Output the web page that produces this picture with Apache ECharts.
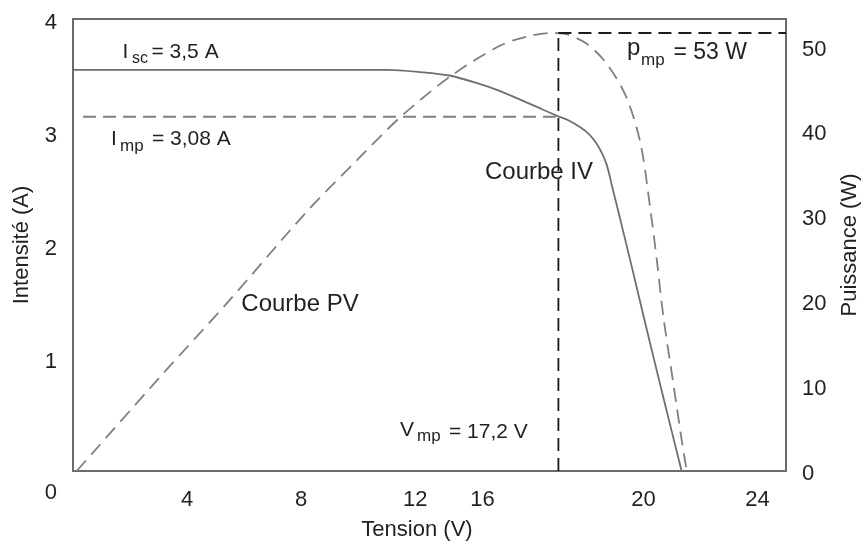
<!DOCTYPE html>
<html><head><meta charset="utf-8">
<script src="https://cdn.jsdelivr.net/npm/echarts@6/dist/echarts.min.js"></script>
<style>html,body{margin:0;padding:0;background:#fff}#c{width:864px;height:544px}</style>
</head><body><div id="c"></div>
<script>
// I-V curve (Tension V, Intensité A)
const ivVoltage = [0, 6, 11.0, 12.2, 13.2, 14.2, 15.0, 16.1, 17.0, 17.4, 17.8, 18.1, 18.35, 18.55, 18.7, 18.8, 18.9, 19.05, 19.6, 20.12, 20.7, 21.34];
const ivCurrent = [3.55, 3.55, 3.55, 3.53, 3.50, 3.43, 3.36, 3.24, 3.14, 3.10, 3.04, 2.98, 2.90, 2.81, 2.72, 2.63, 2.52, 2.37, 1.80, 1.25, 0.65, 0];
// P-V curve (Tension V, Puissance W)
const pvVoltage = [0.13, 3.0, 5.4, 8.2, 10.0, 11.5, 13.3, 15.0, 16.0, 16.8, 17.3, 18.0, 18.7, 19.4, 19.9, 20.23, 20.47, 20.7, 21.05, 21.34, 21.52];
const pvPower = [0, 10.9, 19.8, 30.6, 36.8, 41.8, 46.7, 50.2, 51.3, 51.65, 51.5, 50.4, 48.1, 44.1, 38.6, 31.2, 24.9, 18.2, 10.3, 3.7, 0];
// Maximum power point markers
const vmp = 17.02, imp = 3.135, pmp = 51.65, impLineStart = 0.35;
// Tick labels
const xTickValues = [4, 8, 12, 14.36, 20, 24];
const xTickLabels = ['4', '8', '12', '16', '20', '24'];
const leftTicks = [0, 1, 2, 3, 4];
const rightTicks = [0, 10, 20, 30, 40, 50];

const FONT = '"Liberation Sans", Arial, sans-serif';
const TXT = '#231f20';
const chart = echarts.init(document.getElementById('c'), null, {renderer: 'canvas'});

function t(x, y, text, size, align) {
  return {type: 'text', x: x, y: y, silent: true,
    style: {text: text, fill: TXT, font: size + 'px ' + FONT, textAlign: align || 'left', textVerticalAlign: 'middle'}};
}

const option = {
  animation: false,
  backgroundColor: '#fff',
  grid: {left: 73, right: 78, top: 19, bottom: 73, show: true, borderColor: '#6b6b6b', borderWidth: 2,
    backgroundColor: 'transparent', containLabel: false, outerBoundsMode: 'none'},
  xAxis: {
    type: 'value', min: 0, max: 25,
    name: 'Tension (V)', nameLocation: 'middle', nameGap: 48,
    nameTextStyle: {fontSize: 22, fontFamily: FONT, color: TXT, padding: [0, 25, 0, 0]},
    axisLine: {show: false}, axisTick: {show: false}, splitLine: {show: false},
    axisLabel: {customValues: xTickValues, fontSize: 22, fontFamily: FONT, color: TXT, margin: 18,
      formatter: v => { const i = xTickValues.indexOf(v); return i >= 0 ? xTickLabels[i] : ''; }}
  },
  yAxis: [{
    type: 'value', min: 0, max: 4, interval: 1, position: 'left',
    name: 'Intensité (A)', nameLocation: 'middle', nameGap: 40,
    nameTextStyle: {fontSize: 22, fontFamily: FONT, color: TXT},
    axisLine: {show: false}, axisTick: {show: false}, splitLine: {show: false},
    axisLabel: {customValues: leftTicks, fontSize: 22, fontFamily: FONT, color: TXT, margin: 16,
      formatter: v => v === 0 ? '{z|0}' : '{n|' + v + '}',
      rich: {z: {fontSize: 22, fontFamily: FONT, color: TXT, padding: [44, 0, 0, 0]},
             n: {fontSize: 22, fontFamily: FONT, color: TXT, padding: [7, 0, 0, 0]}}}
  }, {
    type: 'value', min: 0, max: 53.3, interval: 10, position: 'right',
    name: 'Puissance (W)', nameLocation: 'middle', nameGap: 53,
    nameTextStyle: {fontSize: 22, fontFamily: FONT, color: TXT},
    axisLine: {show: false}, axisTick: {show: false}, splitLine: {show: false},
    axisLabel: {customValues: rightTicks, fontSize: 22, fontFamily: FONT, color: TXT, margin: 16,
      formatter: v => '{n|' + v + '}',
      rich: {n: {fontSize: 22, fontFamily: FONT, color: TXT, padding: [5, 0, 0, 0]}}}
  }],
  series: [{
    name: 'Courbe IV', type: 'line', yAxisIndex: 0, showSymbol: false, smooth: 0.3,
    lineStyle: {color: '#6f6f73', width: 1.8},
    data: ivVoltage.map((v, i) => [v, ivCurrent[i]])
  }, {
    name: 'Courbe PV', type: 'line', yAxisIndex: 1, showSymbol: false, smooth: 0.3,
    lineStyle: {color: '#808080', width: 1.8, type: [14, 8]},
    data: pvVoltage.map((v, i) => [v, pvPower[i]])
  }, {
    name: 'Imp', type: 'line', yAxisIndex: 0, showSymbol: false,
    lineStyle: {color: '#808080', width: 1.8, type: [13, 7]},
    data: [[impLineStart, imp], [vmp, imp]]
  }, {
    name: 'Vmp', type: 'line', yAxisIndex: 1, showSymbol: false,
    lineStyle: {color: '#1a1a1a', width: 1.8, type: [13, 7]},
    data: [[vmp, 0], [vmp, pmp]]
  }, {
    name: 'Pmp', type: 'line', yAxisIndex: 1, showSymbol: false,
    lineStyle: {color: '#1a1a1a', width: 1.8, type: [13, 7]},
    data: [[vmp, pmp], [25, pmp]]
  }],
  graphic: [
    t(122.5, 52, 'I', 21), t(132, 59, 'sc', 16), t(151.5, 52, '= 3,5 A', 21),
    t(111, 139, 'I', 21), t(120, 146, 'mp', 17), t(152, 139, '= 3,08 A', 21),
    t(627, 48, 'p', 24), t(641, 60, 'mp', 17), t(673.5, 53, '= 53 W', 23),
    t(400, 430, 'V', 21), t(417, 436, 'mp', 17), t(449, 432, '= 17,2 V', 21),
    t(539, 172, 'Courbe IV', 24, 'center'),
    t(300, 304, 'Courbe PV', 24, 'center')
  ]
};
chart.setOption(option);
</script></body></html>
